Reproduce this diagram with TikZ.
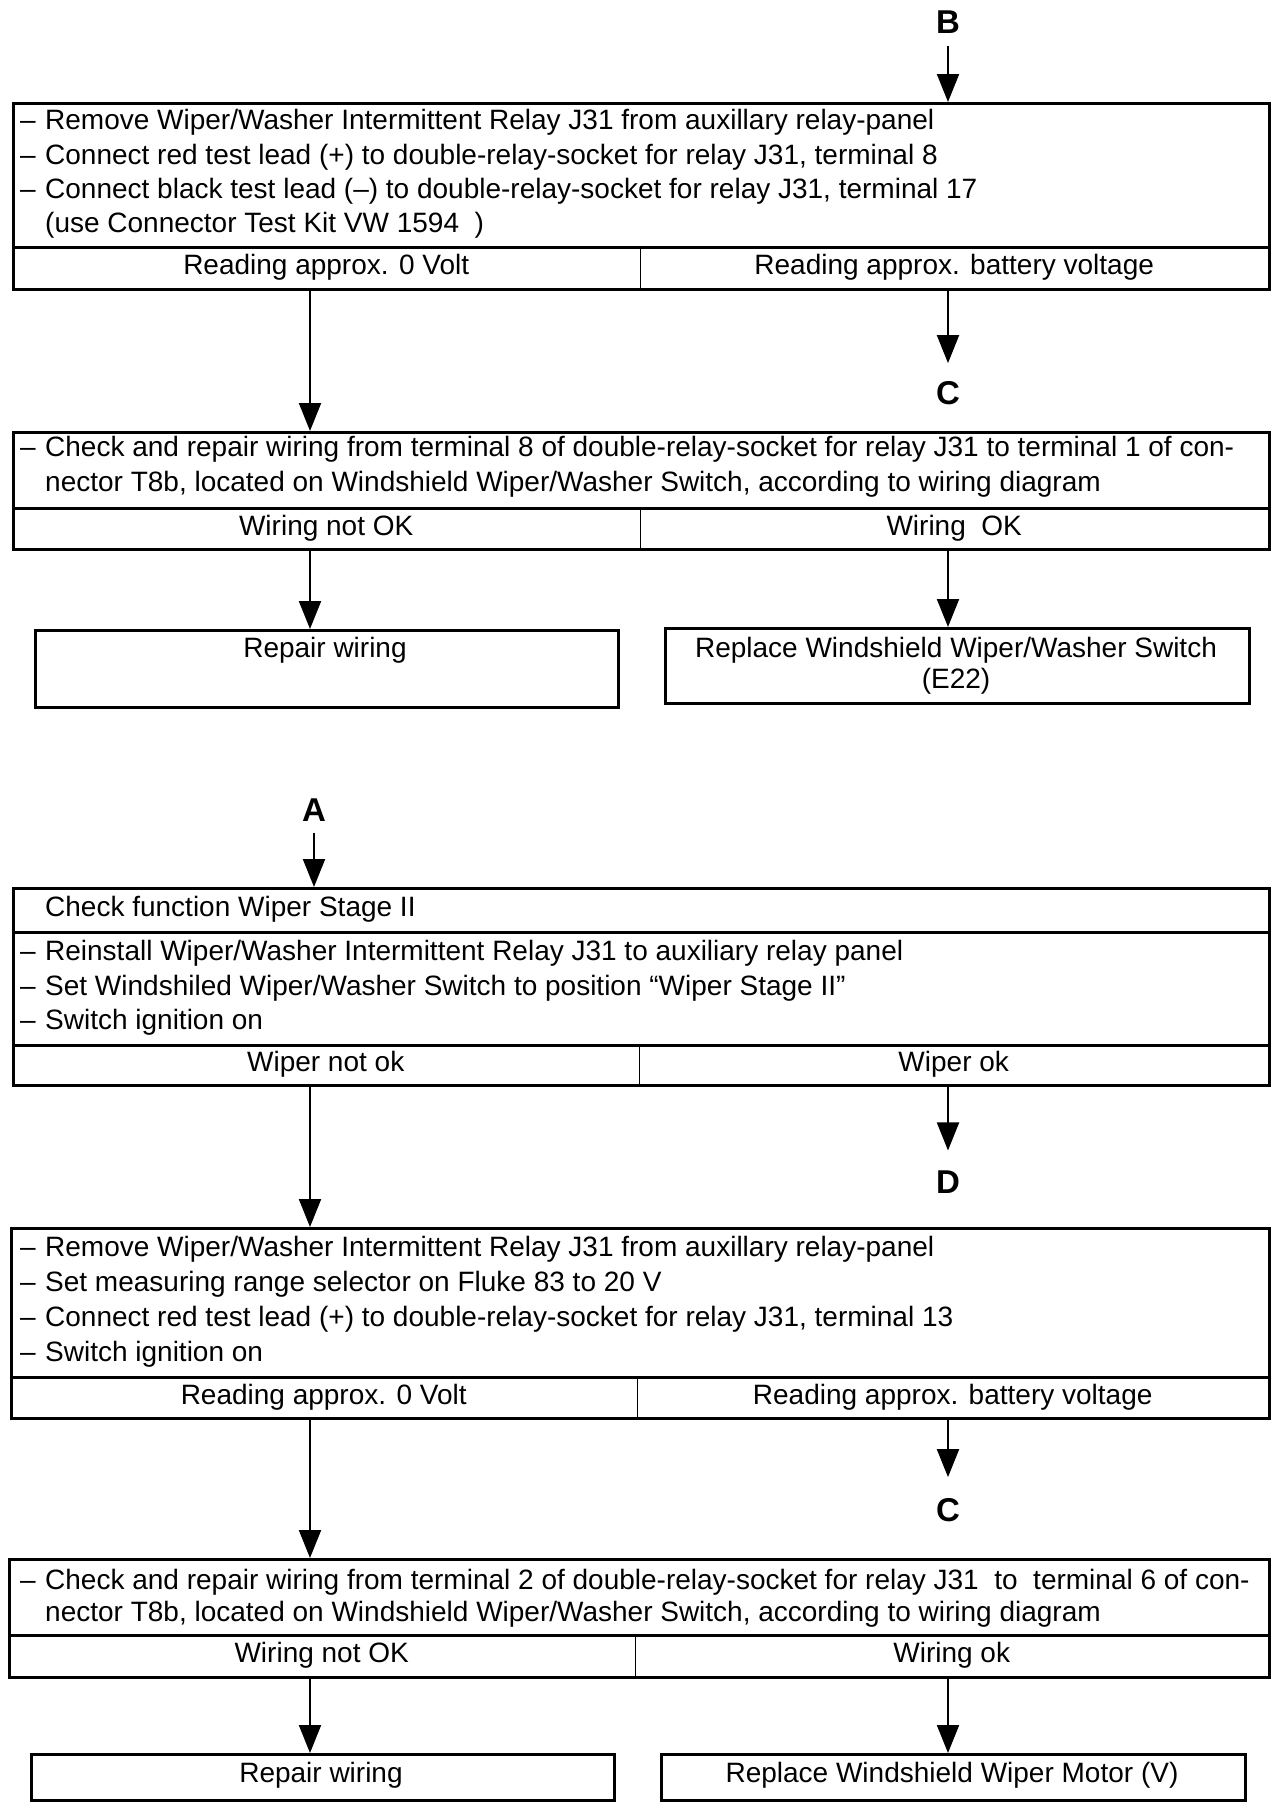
\documentclass[tikz,border=0pt]{standalone}
\usepackage{fontspec}
\setmainfont{Liberation Sans}
\usetikzlibrary{arrows.meta}
\newcommand\itemdash{\makebox[25pt][l]{–}}
\begin{document}
\begin{tikzpicture}[x=1pt,y=-1pt,
  frame/.style={draw, line width=3pt, inner sep=0pt, anchor=north west},
  cell/.style={inner sep=0pt, anchor=north west, font=\fontsize{28}{34}\selectfont},
  bodytext/.style={anchor=base west, inner sep=0pt, font=\fontsize{28}{34}\selectfont},
  ctext/.style={anchor=base, inner sep=0pt, font=\fontsize{28}{34}\selectfont},
  letter/.style={inner sep=0pt, font=\fontsize{33}{33}\selectfont\bfseries},
  divider/.style={line width=3pt},
  vdiv/.style={line width=1.5pt},
  arr/.style={line width=2pt, -{Triangle[length=28pt,width=22pt]}},
]
\useasboundingbox (0,0) rectangle (1280,1808);
\coordinate (xL) at (310,0);
\coordinate (xR) at (948,0);

% ---------- Block 1 ----------
\node[letter] (b) at (948,22) {B};
\node[frame, minimum width=1256pt, minimum height=186pt] (b1) at (12,102) {};
\node[bodytext] (b1t1) at (20,129) {\itemdash Remove Wiper/Washer Intermittent Relay J31 from auxillary relay-panel};
\node[bodytext] (b1t2) at (20,164) {\itemdash Connect red test lead (+) to double-relay-socket for relay J31, terminal 8};
\node[bodytext] (b1t3) at (20,198) {\itemdash Connect black test lead (–) to double-relay-socket for relay J31, terminal 17};
\node[bodytext] (b1t4) at (45,232) {(use Connector Test Kit VW 1594\ \ )};
\node[cell, minimum width=628pt, minimum height=41pt] (b1l) at (12,247) {Reading approx. 0 Volt};
\node[cell, minimum width=628pt, minimum height=41pt] (b1r) at (640,247) {Reading approx. battery voltage};
\draw[divider] (b1l.north west) -- (b1r.north east);
\draw[vdiv] (b1l.north east) -- (b1l.south east);

\draw[arr, shorten <=12pt] (b.south) -- (b1.north -| b);

% ---------- Block 2 ----------
\node[letter] (c1) at (948,393) {C};
\node[frame, minimum width=1256pt, minimum height=117pt] (b2) at (12,431) {};
\node[bodytext] (b2t1) at (20,456) {\itemdash Check and repair wiring from terminal 8 of double-relay-socket for relay J31 to terminal 1 of con-};
\node[bodytext] (b2t2) at (45,491) {nector T8b, located on Windshield Wiper/Washer Switch, according to wiring diagram};
\node[cell, minimum width=628pt, minimum height=40pt] (b2l) at (12,508) {Wiring not OK};
\node[cell, minimum width=628pt, minimum height=40pt] (b2r) at (640,508) {Wiring\ \ OK};
\draw[divider] (b2l.north west) -- (b2r.north east);
\draw[vdiv] (b2l.north east) -- (b2l.south east);

\draw[arr] (b1l.south -| xL) -- (b2.north -| xL);
\draw[arr, shorten >=18pt] (b1r.south -| c1) -- (c1.north);

\node[frame, minimum width=583pt, minimum height=77pt] (r1) at (34,629) {};
\node[ctext] (r1t) at (325,657) {Repair wiring};
\node[frame, minimum width=584pt, minimum height=75pt] (s1) at (664,627) {};
\node[ctext] (s1t1) at (956,657) {Replace Windshield Wiper/Washer Switch};
\node[ctext] (s1t2) at (956,688) {(E22)};

\draw[arr] (b2l.south -| xL) -- (r1.north -| xL);
\draw[arr] (b2r.south -| xR) -- (s1.north -| xR);

% ---------- Block 3 ----------
\node[letter] (a) at (314,810) {A};
\node[frame, minimum width=1256pt, minimum height=197pt] (b3) at (12,887) {};
\node[bodytext] (b3t0) at (45,916) {Check function Wiper Stage II};
\draw[divider] (b3.west |- 0,932) -- (b3.east |- 0,932);
\node[bodytext] (b3t1) at (20,960) {\itemdash Reinstall Wiper/Washer Intermittent Relay J31 to auxiliary relay panel};
\node[bodytext] (b3t2) at (20,995) {\itemdash Set Windshiled Wiper/Washer Switch to position “Wiper Stage II”};
\node[bodytext] (b3t3) at (20,1029) {\itemdash Switch ignition on};
\node[cell, minimum width=627pt, minimum height=39pt] (b3l) at (12,1045) {Wiper not ok};
\node[cell, minimum width=629pt, minimum height=39pt] (b3r) at (639,1045) {Wiper ok};
\draw[divider] (b3l.north west) -- (b3r.north east);
\draw[vdiv] (b3l.north east) -- (b3l.south east);

\draw[arr, shorten <=11pt] (a.south) -- (b3.north -| a);

% ---------- Block 4 ----------
\node[letter] (d) at (948,1182) {D};
\node[frame, minimum width=1258pt, minimum height=190pt] (b4) at (10,1227) {};
\node[bodytext] (b4t1) at (20,1256) {\itemdash Remove Wiper/Washer Intermittent Relay J31 from auxillary relay-panel};
\node[bodytext] (b4t2) at (20,1291) {\itemdash Set measuring range selector on Fluke 83 to 20 V};
\node[bodytext] (b4t3) at (20,1326) {\itemdash Connect red test lead (+) to double-relay-socket for relay J31, terminal 13};
\node[bodytext] (b4t4) at (20,1361) {\itemdash Switch ignition on};
\node[cell, minimum width=627pt, minimum height=40pt] (b4l) at (10,1377) {Reading approx. 0 Volt};
\node[cell, minimum width=631pt, minimum height=40pt] (b4r) at (637,1377) {Reading approx. battery voltage};
\draw[divider] (b4l.north west) -- (b4r.north east);
\draw[vdiv] (b4l.north east) -- (b4l.south east);

\draw[arr] (b3l.south -| xL) -- (b4.north -| xL);
\draw[arr, shorten >=20pt] (b3r.south -| d) -- (d.north);

% ---------- Block 5 ----------
\node[letter] (c2) at (948,1510) {C};
\node[frame, minimum width=1260pt, minimum height=118pt] (b5) at (8,1558) {};
\node[bodytext] (b5t1) at (20,1589) {\itemdash Check and repair wiring from terminal 2 of double-relay-socket for relay J31\ \ to\ \ terminal 6 of con-};
\node[bodytext] (b5t2) at (45,1621) {nector T8b, located on Windshield Wiper/Washer Switch, according to wiring diagram};
\node[cell, minimum width=627pt, minimum height=41pt] (b5l) at (8,1635) {Wiring not OK};
\node[cell, minimum width=633pt, minimum height=41pt] (b5r) at (635,1635) {Wiring ok};
\draw[divider] (b5l.north west) -- (b5r.north east);
\draw[vdiv] (b5l.north east) -- (b5l.south east);

\draw[arr] (b4l.south -| xL) -- (b5.north -| xL);
\draw[arr, shorten >=21pt] (b4r.south -| c2) -- (c2.north);

\node[frame, minimum width=583pt, minimum height=46pt] (r2) at (30,1753) {};
\node[ctext] (r2t) at (321,1782) {Repair wiring};
\node[frame, minimum width=584pt, minimum height=46pt] (s2) at (660,1753) {};
\node[ctext] (s2t) at (952,1782) {Replace Windshield Wiper Motor (V)};

\draw[arr] (b5l.south -| xL) -- (r2.north -| xL);
\draw[arr] (b5r.south -| xR) -- (s2.north -| xR);
\end{tikzpicture}
\end{document}
